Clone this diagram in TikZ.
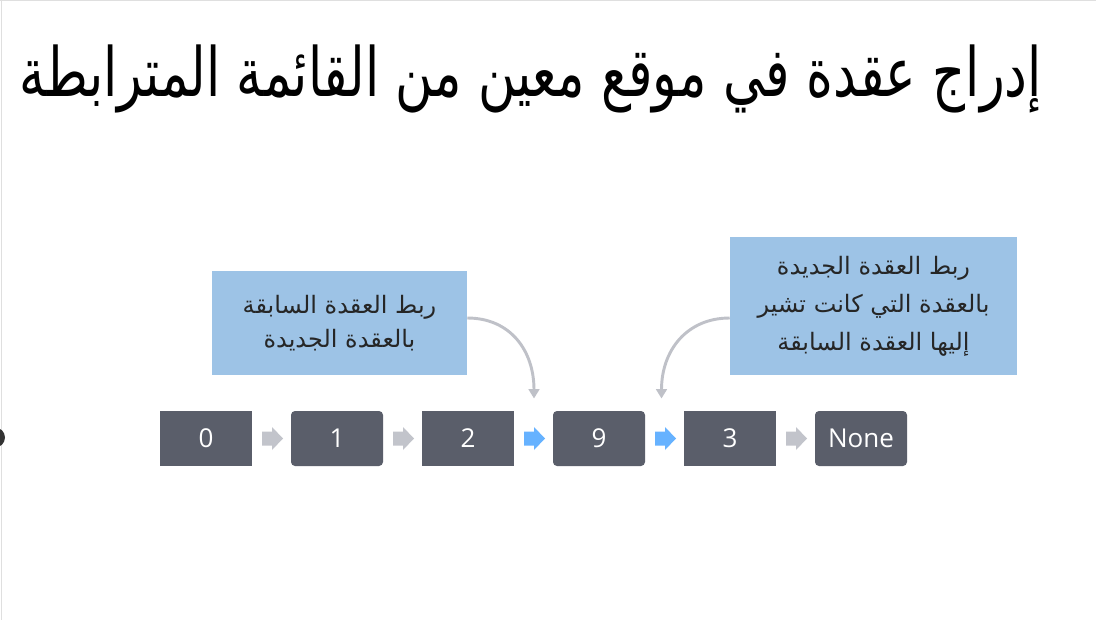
\documentclass[tikz,border=0pt]{standalone}
\usepackage{fontspec}
\setmainfont{Open Sans}
\newfontfamily\arabicfont[Script=Arabic]{DejaVu Sans}
\TeXXeTstate=1
\usetikzlibrary{arrows.meta,calc}
\definecolor{boxfill}{HTML}{5A5E6A}
\definecolor{calloutfill}{HTML}{9DC3E6}
\definecolor{grayarrow}{HTML}{C2C4CB}
\definecolor{bluearrow}{HTML}{66B2FF}
\definecolor{curvegray}{HTML}{BFC1C8}
\definecolor{calltext}{HTML}{262626}
\tikzset{
  listbox/.style={fill=boxfill, text=white, minimum width=69pt, minimum height=41.25pt,
    inner sep=0pt, font=\fontsize{19.5}{22}\selectfont},
  roundbox/.style={listbox, rounded corners=3pt},
  callout/.style={fill=calloutfill, text=calltext, inner sep=0pt, align=center},
  curvearrow/.style={draw=curvegray, line width=2.2pt, -{Triangle[length=7pt,width=8pt]}},
}
\newcommand\blockarr[2]{%
  \fill[#2] ($(#1)+(-9.5,-7)$) -- ++(10,0) -- ++(0,-4.5) -- ++(11,11.5) -- ++(-11,11.5)
    -- ++(0,-4.5) -- ++(-10,0) -- cycle;}
\begin{document}
\begin{tikzpicture}[x=0.75pt,y=-0.75pt]
\useasboundingbox (0,0) rectangle (1096,620);
\fill[white] (0,0) rectangle (1096,620);
\draw[gray!25, line width=0.75pt] (0,0.5) -- (1096,0.5);
\draw[gray!25, line width=0.75pt] (1.5,0) -- (1.5,620);
\begin{scope}
\clip (0,0) rectangle (1096,620);
\fill[black!80] (-5,437.5) circle[radius=10];
\end{scope}

% title
\node[anchor=base east, inner sep=0pt, font=\arabicfont\fontsize{51}{56}\selectfont] (title)
  at (1042,97) {\resizebox{766.5pt}{\height}{\beginR إدراج عقدة في موقع معين من القائمة المترابطة\endR}};

% list boxes
\node[listbox]  (b0) at (206,438.5) {0};
\node[roundbox] (b1) at (337,438.5) {1};
\node[listbox]  (b2) at (468,438.5) {2};
\node[roundbox] (b9) at (599,438.5) {9};
\node[listbox]  (b3) at (730,438.5) {3};
\node[roundbox] (bn) at (861,438.5) {None};

% midpoints between boxes
\path (b0.east) -- (b1.west) coordinate[pos=0.5] (m01);
\path (b1.east) -- (b2.west) coordinate[pos=0.5] (m12);
\path (b2.east) -- (b9.west) coordinate[pos=0.5] (m29);
\path (b9.east) -- (b3.west) coordinate[pos=0.5] (m93);
\path (b3.east) -- (bn.west) coordinate[pos=0.5] (m3n);

\blockarr{m01}{grayarrow}
\blockarr{m12}{grayarrow}
\blockarr{m29}{bluearrow}
\blockarr{m93}{bluearrow}
\blockarr{m3n}{grayarrow}

% callouts
\node[callout, minimum width=191.25pt, minimum height=78pt,
  font=\arabicfont\fontsize{18}{26}\selectfont] (c1) at (339.5,323)
  {\beginR ربط العقدة السابقة\endR\\ \beginR بالعقدة الجديدة\endR};
\node[callout, minimum width=215.25pt, minimum height=103.5pt,
  font=\arabicfont\fontsize{18}{28.5}\selectfont] (c2) at (873.5,306)
  {\beginR ربط العقدة الجديدة\endR\\ \beginR بالعقدة التي كانت تشير\endR\\ \beginR إليها العقدة السابقة\endR};

% curved arrows
\coordinate (t1) at ($(m29)+(0.5,-40)$);
\coordinate (t2) at ($(m93)+(-3,-40)$);
\draw[curvearrow] ($(c1.east)+(0,-5)$) .. controls ($(c1.east)+(43,-5)$) and ($(t1)+(0,-48)$) .. (t1);
\draw[curvearrow] ($(c2.west)+(0,12)$) .. controls ($(c2.west)+(-43,12)$) and ($(t2)+(0,-48)$) .. (t2);
\end{tikzpicture}
\end{document}
